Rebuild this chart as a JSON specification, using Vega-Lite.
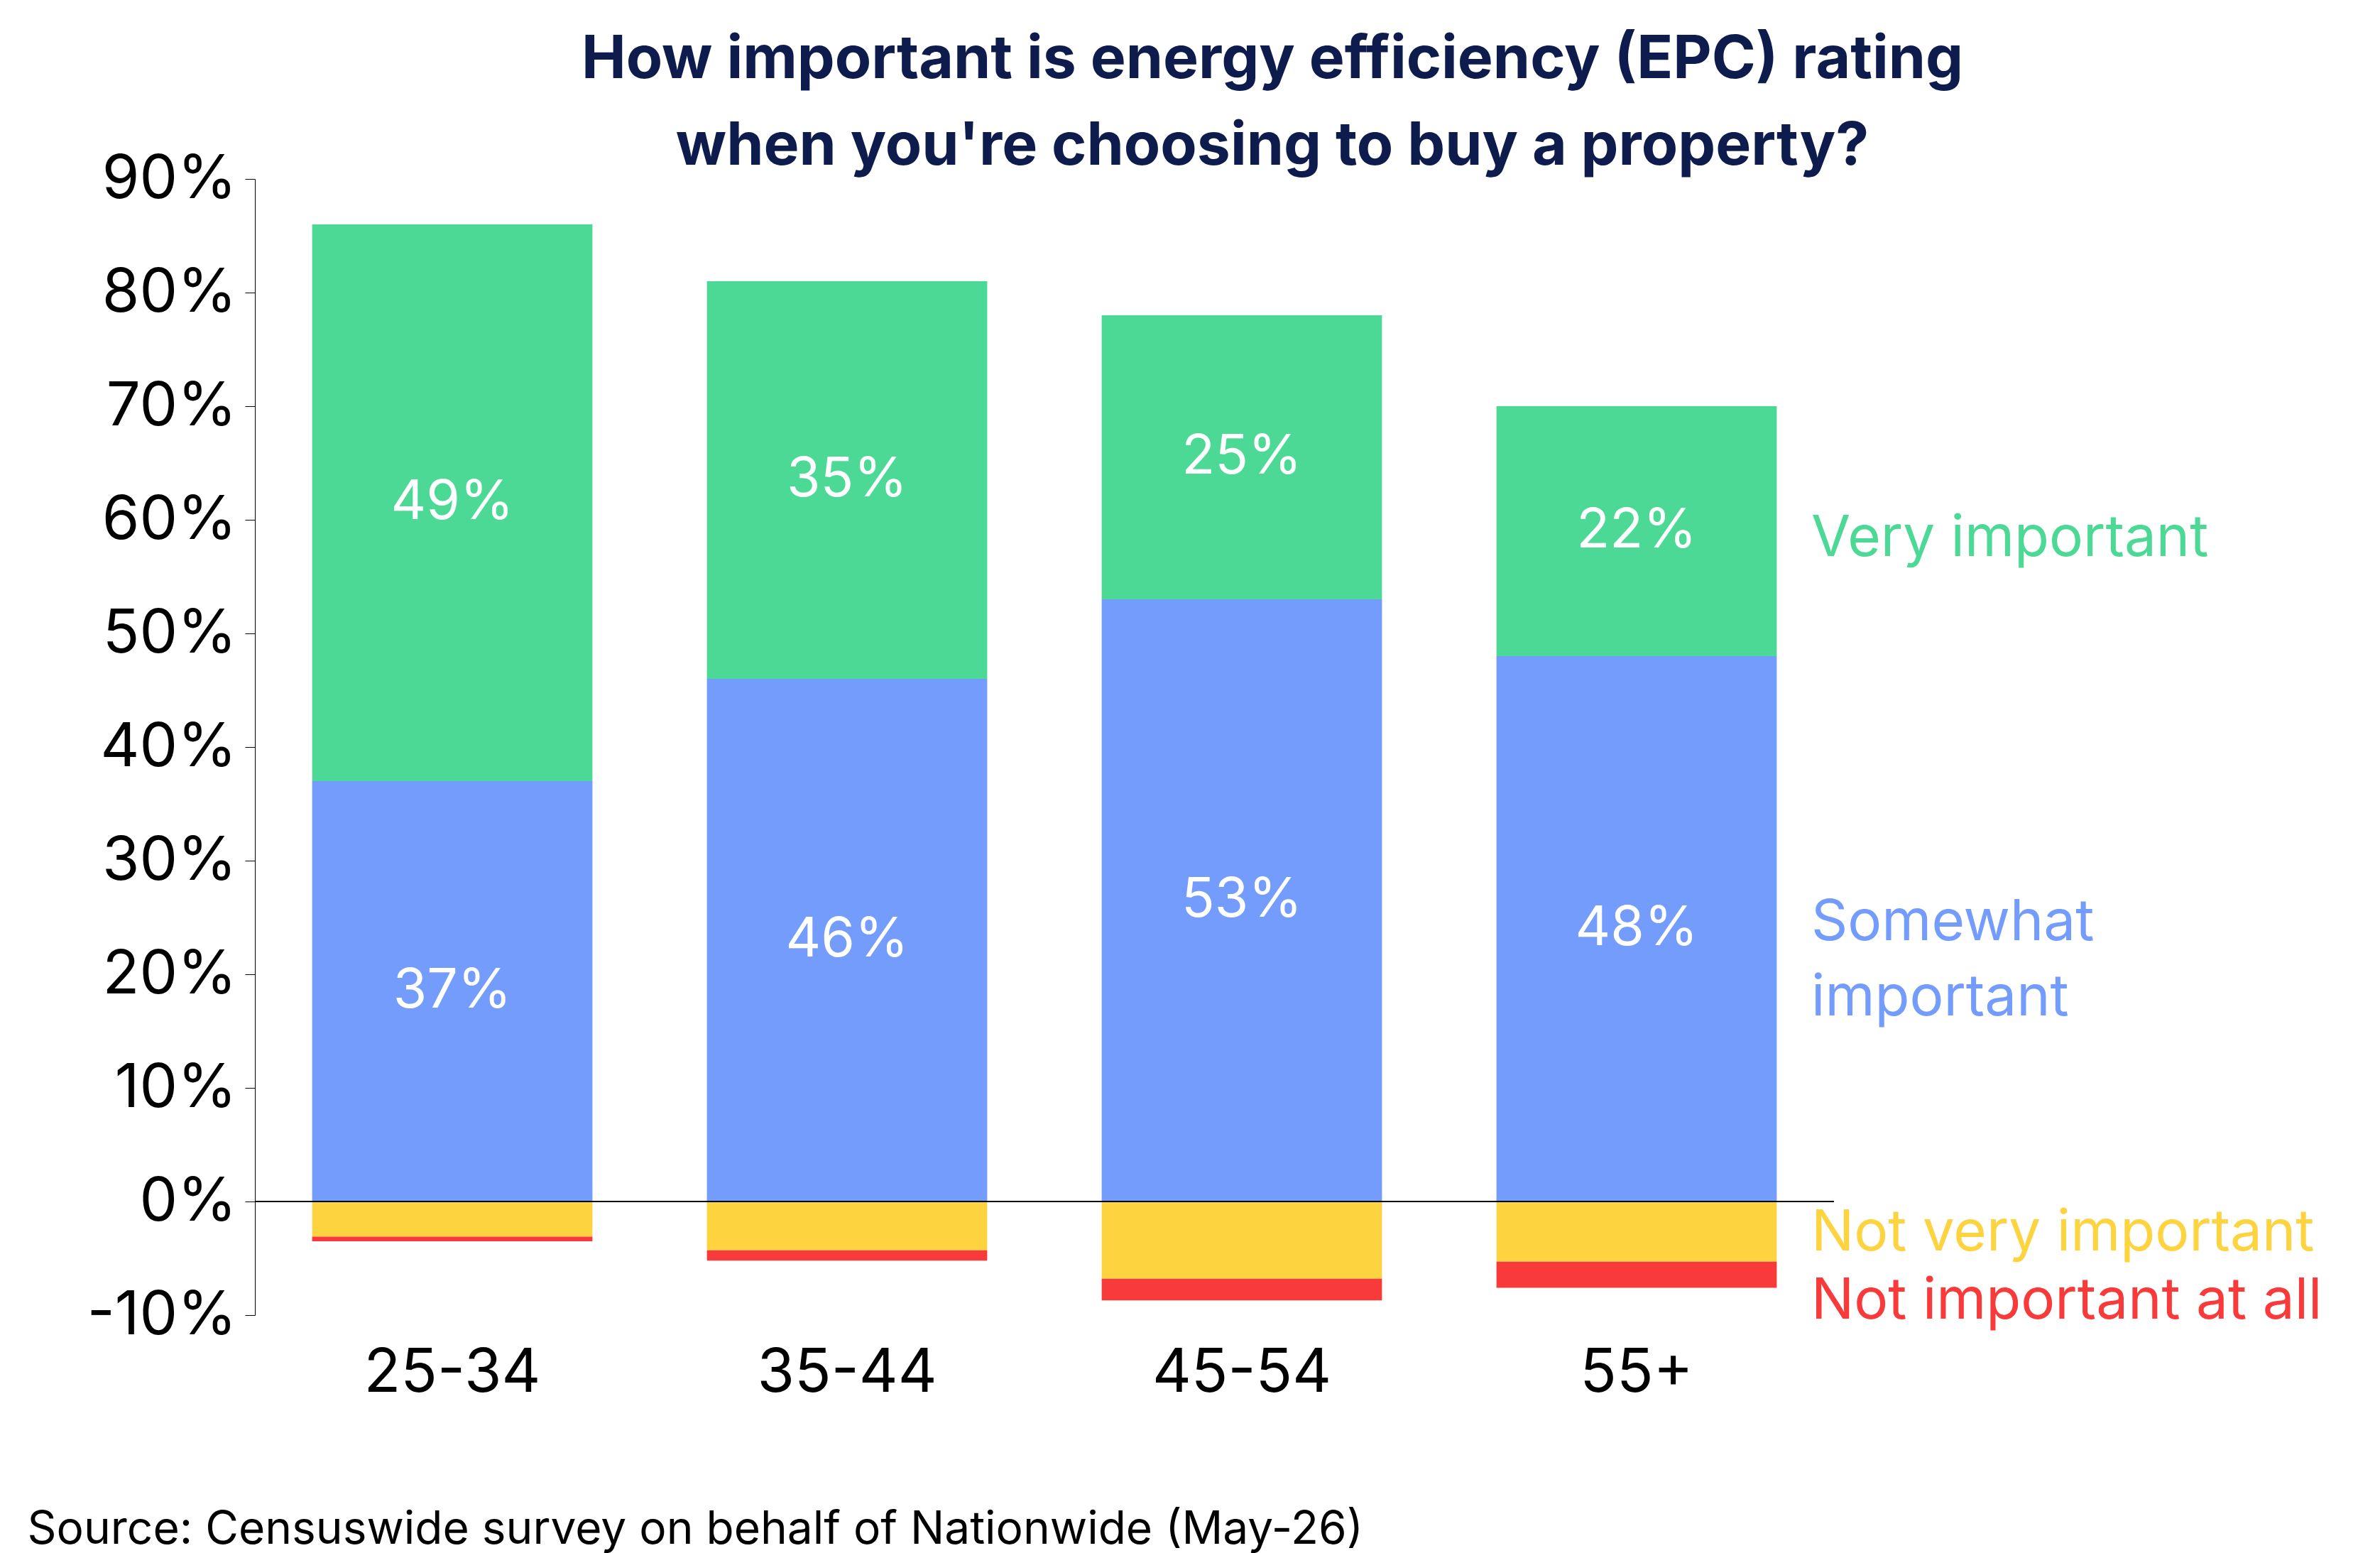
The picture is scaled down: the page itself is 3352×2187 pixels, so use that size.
{
  "$schema": "https://vega.github.io/schema/vega-lite/v6.json",
  "width": 2224,
  "height": 1600,
  "autosize": "none",
  "padding": {"left": 359, "top": 252, "right": 769, "bottom": 335},
  "background": "white",
  "title": {
    "text": ["How important is energy efficiency (EPC) rating", "when you're choosing to buy a property?"],
    "font": "Inter",
    "fontSize": 84,
    "fontWeight": "bold",
    "color": "#0e1b4d",
    "anchor": "middle",
    "frame": "group",
    "dx": 321,
    "lineHeight": 122,
    "offset": -40
  },
  "data": {
    "values": [
      {"age": "25-34", "cat": "Somewhat important", "value": 37, "ord": 1},
      {"age": "25-34", "cat": "Very important", "value": 49, "ord": 2},
      {"age": "25-34", "cat": "Not very important", "value": -3.1, "ord": 3},
      {"age": "25-34", "cat": "Not important at all", "value": -0.4, "ord": 4},
      {"age": "35-44", "cat": "Somewhat important", "value": 46, "ord": 1},
      {"age": "35-44", "cat": "Very important", "value": 35, "ord": 2},
      {"age": "35-44", "cat": "Not very important", "value": -4.3, "ord": 3},
      {"age": "35-44", "cat": "Not important at all", "value": -0.9, "ord": 4},
      {"age": "45-54", "cat": "Somewhat important", "value": 53, "ord": 1},
      {"age": "45-54", "cat": "Very important", "value": 25, "ord": 2},
      {"age": "45-54", "cat": "Not very important", "value": -6.8, "ord": 3},
      {"age": "45-54", "cat": "Not important at all", "value": -1.9, "ord": 4},
      {"age": "55+", "cat": "Somewhat important", "value": 48, "ord": 1},
      {"age": "55+", "cat": "Very important", "value": 22, "ord": 2},
      {"age": "55+", "cat": "Not very important", "value": -5.3, "ord": 3},
      {"age": "55+", "cat": "Not important at all", "value": -2.3, "ord": 4}
    ]
  },
  "layer": [
    {
      "mark": {"type": "bar"},
      "encoding": {
        "x": {
          "field": "age", "type": "nominal",
          "scale": {"domain": ["25-34", "35-44", "45-54", "55+"], "paddingInner": 0.29, "paddingOuter": 0.145},
          "axis": {
            "domain": false, "ticks": false, "labelAngle": 0,
            "labelFontSize": 85, "labelPadding": 40, "labelColor": "#000000", "labelLimit": 0,
            "title": "Source: Censuswide survey on behalf of Nationwide (May-26)",
            "titleAnchor": "start", "titleAlign": "left", "titleX": -321, "titleY": 270,
            "titleFontSize": 64, "titleFontWeight": "normal", "titleColor": "#000000", "titleLimit": 0
          }
        },
        "y": {
          "field": "value", "type": "quantitative", "stack": "zero",
          "scale": {"domain": [-10, 90], "nice": false},
          "axis": {
            "values": [-10, 0, 10, 20, 30, 40, 50, 60, 70, 80, 90],
            "labelExpr": "datum.value + '%'",
            "grid": false, "domainColor": "#000000", "tickColor": "#000000",
            "tickSize": 14, "labelFontSize": 85, "labelPadding": 12, "labelLimit": 0,
            "labelColor": "#000000", "title": null
          }
        },
        "order": {"field": "ord"},
        "color": {
          "field": "cat", "type": "nominal", "legend": null,
          "scale": {
            "domain": ["Very important", "Somewhat important", "Not very important", "Not important at all"],
            "range": ["#4cd995", "#739cfc", "#fdd33f", "#f93a3a"]
          }
        }
      }
    },
    {
      "transform": [
        {"filter": "datum.value > 0"},
        {"stack": "value", "groupby": ["age"], "sort": [{"field": "ord"}], "as": ["v0", "v1"]},
        {"calculate": "(datum.v0 + datum.v1) / 2", "as": "mid"},
        {"calculate": "datum.value + '%'", "as": "lbl"}
      ],
      "mark": {"type": "text", "color": "white", "fontSize": 77, "baseline": "middle"},
      "encoding": {
        "x": {"field": "age", "type": "nominal"},
        "y": {"field": "mid", "type": "quantitative"},
        "text": {"field": "lbl"}
      }
    },
    {
      "data": {"values": [{"y": 0}]},
      "mark": {"type": "rule", "color": "#000000", "strokeWidth": 2},
      "encoding": {"y": {"field": "y", "type": "quantitative"}}
    },
    {
      "data": {
        "values": [
          {"age": "55+", "pos": 58.3, "label": "Very important", "cat": "Very important"},
          {"age": "55+", "pos": 24.5, "label": "Somewhat\nimportant", "cat": "Somewhat important"},
          {"age": "55+", "pos": -2.8, "label": "Not very important", "cat": "Not very important"},
          {"age": "55+", "pos": -8.8, "label": "Not important at all", "cat": "Not important at all"}
        ]
      },
      "mark": {"type": "text", "align": "left", "baseline": "middle", "dx": 246, "fontSize": 80, "lineBreak": "\n", "lineHeight": 106},
      "encoding": {
        "x": {"field": "age", "type": "nominal"},
        "y": {"field": "pos", "type": "quantitative"},
        "text": {"field": "label"},
        "color": {"field": "cat", "type": "nominal", "legend": null}
      }
    }
  ],
  "config": {
    "font": "Inter",
    "view": {"stroke": null}
  }
}
